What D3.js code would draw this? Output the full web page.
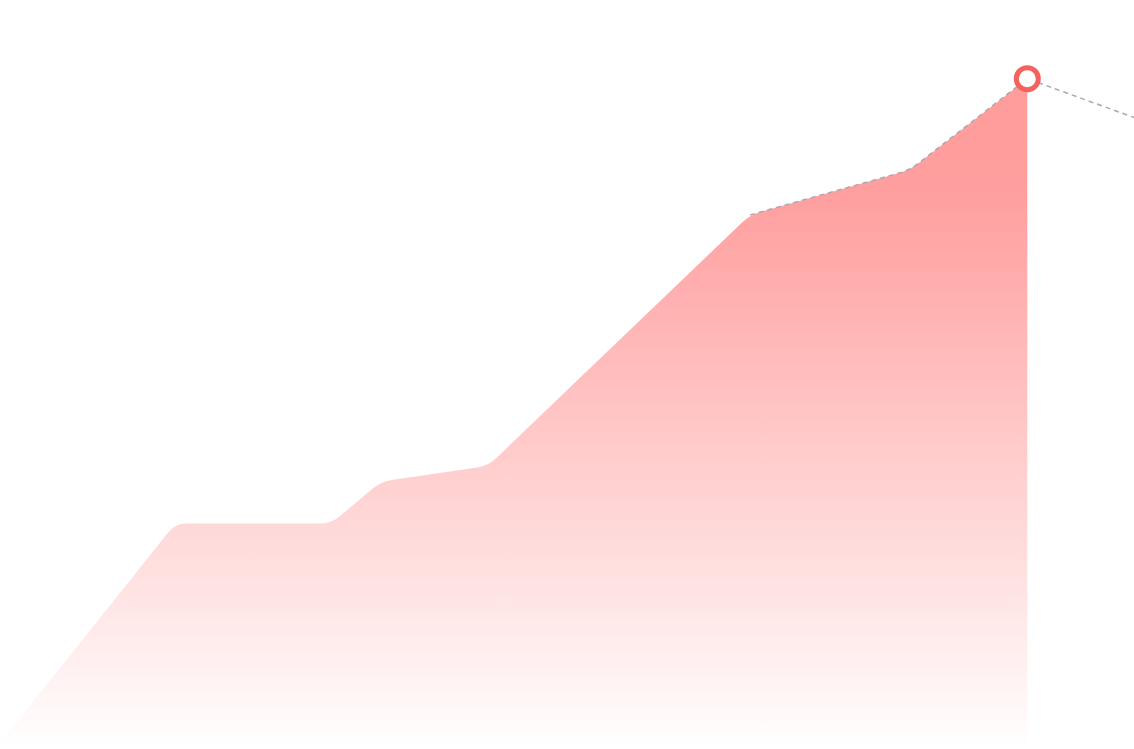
<!DOCTYPE html>
<html>
<head>
<meta charset="utf-8">
<script src="https://cdn.jsdelivr.net/npm/d3@7"></script>
<style>
    html, body {
        margin: 0;
        padding: 0;
        background: #fff;
        overflow: hidden;
    }
</style>
</head>
<body>
<div id="chart"></div>
<script>
// x positions (days) and values
const days = [0, 34, 64.2, 73.9, 94.7, 145.5, 176.5, 199.3, 240];
const values = [0.8, 30.1, 30.1, 35.7, 37.8, 71.3, 77.3, 89.5, 79.3];

// the area stops at the highlighted point, the dashed line starts at index 5
const areaEnd = 7;
const dashStart = 5;
const highlight = 7;

const margin = {
    top: 0,
    right: 0,
    bottom: 0,
    left: 0,
};

const width = 1134 - margin.left - margin.right;
const height = 749 - margin.top - margin.bottom;

const svg = d3.select('#chart')
    .append('svg')
    .attr('width', width + margin.left + margin.right)
    .attr('height', height + margin.top + margin.bottom)
    .append('g')
    .attr('transform', `translate(${margin.left}, ${margin.top})`);

const xScale = d3.scaleLinear()
    .domain([0, 220])
    .range([0, width]);

const yScale = d3.scaleLinear()
    .domain([0, 100])
    .range([height, 0]);

// linear curve with small rounded corners at every inner vertex
const cornerRadius = 11;
function roundedCurve(context) {
    let pts = [];
    let line = NaN;
    return {
        areaStart() { line = 0; },
        areaEnd() { line = NaN; },
        lineStart() { pts = []; },
        point(x, y) { pts.push([+x, +y]); },
        lineEnd() {
            pts.forEach((p, i) => {
                if (i === 0) {
                    line ? context.lineTo(p[0], p[1]) : context.moveTo(p[0], p[1]);
                    return;
                }
                if (i === pts.length - 1) {
                    context.lineTo(p[0], p[1]);
                    return;
                }
                const a = pts[i - 1];
                const b = pts[i + 1];
                const d0 = Math.hypot(p[0] - a[0], p[1] - a[1]);
                const d1 = Math.hypot(b[0] - p[0], b[1] - p[1]);
                if (!d0 || !d1) {
                    context.lineTo(p[0], p[1]);
                    return;
                }
                const r = Math.min(cornerRadius, d0 / 2, d1 / 2);
                context.lineTo(p[0] + (a[0] - p[0]) * r / d0, p[1] + (a[1] - p[1]) * r / d0);
                context.quadraticCurveTo(p[0], p[1], p[0] + (b[0] - p[0]) * r / d1, p[1] + (b[1] - p[1]) * r / d1);
            });
            if (line || (line !== 0 && pts.length === 1)) context.closePath();
            line = 1 - line;
        },
    };
}

const data = days.map((d, i) => ({ day: d, value: values[i] }));

const defs = svg.append('defs');
const grad = defs.append('linearGradient')
    .attr('id', 'areaFill')
    .attr('gradientUnits', 'userSpaceOnUse')
    .attr('x1', 0)
    .attr('x2', 0)
    .attr('y1', yScale(values[highlight]))
    .attr('y2', height);
grad.append('stop').attr('offset', '0%').attr('stop-color', '#ff6a6a').attr('stop-opacity', 0.66);
grad.append('stop').attr('offset', '17%').attr('stop-color', '#ff6a6a').attr('stop-opacity', 0.65);
grad.append('stop').attr('offset', '100%').attr('stop-color', '#ff6a6a').attr('stop-opacity', 0.0);

const area = d3.area()
    .x((d) => xScale(d.day))
    .y0(yScale(0))
    .y1((d) => yScale(d.value))
    .curve(roundedCurve);

svg.append('path')
    .datum(data.slice(0, areaEnd + 1))
    .attr('d', area)
    .attr('fill', 'url(#areaFill)');

const line = d3.line()
    .x((d) => xScale(d.day))
    .y((d) => yScale(d.value))
    .curve(roundedCurve);

svg.append('path')
    .datum(data.slice(dashStart))
    .attr('d', line)
    .attr('fill', 'none')
    .attr('stroke', '#aaaaaa')
    .attr('stroke-width', 1.5)
    .attr('stroke-dasharray', '5,4');

svg.append('circle')
    .attr('cx', xScale(days[highlight]))
    .attr('cy', yScale(values[highlight]))
    .attr('r', 11)
    .attr('fill', '#fff')
    .attr('stroke', '#f5625d')
    .attr('stroke-width', 5);
</script>
</body>
</html>
